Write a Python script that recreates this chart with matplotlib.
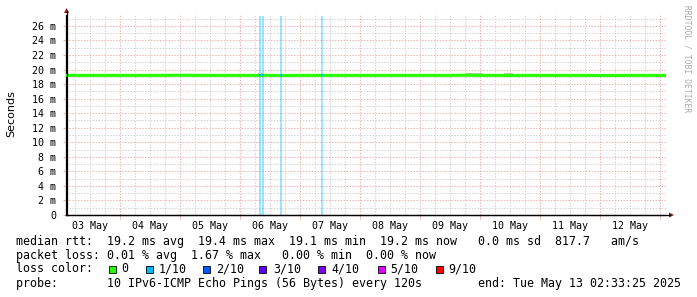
import numpy as np
import matplotlib
matplotlib.use('Agg')
import matplotlib.pyplot as plt
from matplotlib.patches import Rectangle

W, H = 697, 297

# time axis in days since 03 May 00:00, graph ends Tue May 13 02:33:25
t_end = 10 + 2/24 + 33/1440 + 25/86400
t_start = t_end - 10

day_labels = ['03 May', '04 May', '05 May', '06 May', '07 May',
              '08 May', '09 May', '10 May', '11 May', '12 May']
day_label_pos = [0.5, 1.5, 2.5, 3.5, 4.5, 5.5, 6.5, 7.5, 8.5, 9.5]

y_ticks = [0, 2, 4, 6, 8, 10, 12, 14, 16, 18, 20, 22, 24, 26]
y_labels = ['0', '2 m', '4 m', '6 m', '8 m', '10 m', '12 m', '14 m',
            '16 m', '18 m', '20 m', '22 m', '24 m', '26 m']

# median rtt (ms), one value per ~6 h
median_t = [0.11, 0.25, 0.50, 0.75, 1.00, 1.25, 1.50, 1.75, 2.00, 2.25,
            2.50, 2.75, 3.00, 3.25, 3.50, 3.75, 4.00, 4.25, 4.50, 4.75,
            5.00, 5.25, 5.50, 5.75, 6.00, 6.25, 6.50, 6.75, 7.00, 7.25,
            7.50, 7.75, 8.00, 8.25, 8.50, 8.75, 9.00, 9.25, 9.50, 9.75,
            10.09]
median_ms = [19.2, 19.2, 19.2, 19.2, 19.2, 19.2, 19.2, 19.2, 19.22, 19.2,
             19.2, 19.2, 19.2, 19.2, 19.2, 19.18, 19.2, 19.2, 19.2, 19.2,
             19.2, 19.2, 19.2, 19.2, 19.2, 19.2, 19.2, 19.22, 19.2, 19.2,
             19.18, 19.2, 19.2, 19.2, 19.2, 19.2, 19.18, 19.18, 19.2, 19.2,
             19.2]

# faint smoke (max ping) above the median
smoke_t0 = [0.55, 1.65, 3.30, 5.55, 6.75, 7.40]
smoke_t1 = [0.62, 1.75, 3.40, 5.62, 7.05, 7.55]
smoke_hi = [19.45, 19.45, 19.55, 19.45, 19.55, 19.5]

# packet loss events
loss_t = [3.338, 3.385, 3.685, 4.368]
loss_frac = ['1/10', '1/10', '1/10', '1/10']

loss_names = ['0', '1/10', '2/10', '3/10', '4/10', '5/10', '9/10']
loss_colors = ['#26ff00', '#00b8ff', '#0059ff', '#5e00ff', '#7e00ff', '#dd00ff', '#ff0000']
loss_box_x = [109, 146, 203, 259, 318, 378, 436]
loss_text_x = [121, 159, 216, 273, 331, 390, 448]


def fx(px):
    return px / W


def fy(py):
    return 1 - py / H


fig = plt.figure(figsize=(W/100, H/100), dpi=100)
ax = fig.add_axes([fx(66), fy(215), 600/W, 200/H])
ax.set_xlim(t_start, t_end)
ax.set_ylim(0, 27.5)

grid_c = '#d4d4d4'
mgrid_c = '#ebb6b6'
dots = (0, (1.4, 1.4))
for d in np.arange(0, 10.5, 0.25):
    if t_start < d < t_end:
        c = mgrid_c if abs(d - round(d)) < 1e-6 else grid_c
        ax.axvline(d, color=c, lw=0.75, ls=dots, zorder=0)
for v in range(1, 28):
    c = mgrid_c if v % 2 == 0 else grid_c
    ax.axhline(v, color=c, lw=0.75, ls=dots, zorder=0)

# loss background bars
cmap = dict(zip(loss_names, loss_colors))
ax.bar(loss_t, [27.3]*len(loss_t), width=0.028,
       color=[cmap[f] for f in loss_frac], alpha=0.38, lw=0, zorder=1)

for a, b, hi in zip(smoke_t0, smoke_t1, smoke_hi):
    ax.fill_between([a, b], 19.2, hi, color='#c4c4c4', lw=0, zorder=2)

ax.plot(median_t, median_ms, color='#26ff00', lw=2.2, zorder=3)
ax.plot(loss_t, [19.2]*len(loss_t), 's', ms=1.6, mew=0,
        color=cmap['1/10'], zorder=4)

for s in ['top', 'right']:
    ax.spines[s].set_visible(False)
ax.spines['left'].set_linewidth(0.9)
ax.spines['bottom'].set_linewidth(0.9)

mono = 'DejaVu Sans Mono'
ax.set_yticks(y_ticks)
ax.set_yticklabels(y_labels, family=mono, fontsize=7.2)
ax.set_xticks(range(1, 11))
ax.set_xticklabels([])
ax.set_xticks(day_label_pos, minor=True)
ax.set_xticklabels(day_labels, minor=True, family=mono, fontsize=7.2)
ax.tick_params(axis='x', which='major', length=3, color=mgrid_c, direction='out')
ax.tick_params(axis='x', which='minor', length=0, pad=4)
ax.tick_params(axis='y', length=2, color=mgrid_c, pad=5)

# axis arrows
fig.add_artist(plt.Line2D([fx(66.5), fx(66.5)], [fy(215), fy(11)], color='black', lw=0.9))
fig.add_artist(plt.Line2D([fx(66), fx(670)], [fy(215), fy(215)], color='black', lw=0.9))
fig.add_artist(plt.Polygon([[fx(64), fy(13)], [fx(69), fy(13)], [fx(66.5), fy(8)]],
                           color='#8b1a1a', lw=0))
fig.add_artist(plt.Polygon([[fx(669), fy(212.5)], [fx(669), fy(217.5)], [fx(674), fy(215)]],
                           color='#8b1a1a', lw=0))

fig.text(fx(11), fy(114), 'Seconds', rotation=90, ha='center', va='center',
         fontsize=8, family='DejaVu Sans')
fig.text(fx(687), fy(5), 'RRDTOOL / TOBI OETIKER', rotation=270, ha='center', va='top',
         fontsize=5.8, family=mono, color='#aaaaaa')

fs = 8.4
fig.text(fx(16), fy(241), 'median rtt:  19.2 ms avg  19.4 ms max  19.1 ms min  '
         '19.2 ms now   0.0 ms sd  817.7   am/s', family=mono, fontsize=fs, va='center')
fig.text(fx(16), fy(255.5), 'packet loss: 0.01 % avg  1.67 % max   0.00 % min  0.00 % now',
         family=mono, fontsize=fs, va='center')
fig.text(fx(16), fy(269), 'loss color:', family=mono, fontsize=fs, va='center')
for name, col, bx, tx in zip(loss_names, loss_colors, loss_box_x, loss_text_x):
    fig.add_artist(Rectangle((fx(bx), fy(272.5)), 7/W, 7/H, facecolor=col,
                             edgecolor='black', lw=0.6))
    fig.text(fx(tx), fy(269), name, family=mono, fontsize=fs, va='center')
fig.text(fx(16), fy(283), 'probe:       10 IPv6-ICMP Echo Pings (56 Bytes) every 120s'
         '        end: Tue May 13 02:33:25 2025', family=mono, fontsize=fs, va='center')

fig.savefig('out.png', dpi=100)
